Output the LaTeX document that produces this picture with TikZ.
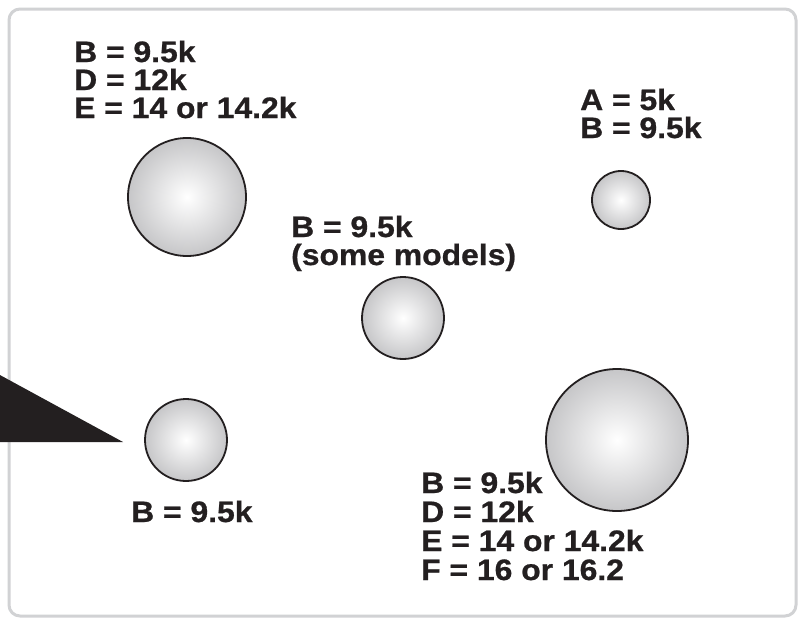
\documentclass[tikz,border=0pt]{standalone}
\usepackage{fontspec}
\setmainfont{Liberation Sans}[FakeStretch=1.08, BoldFeatures={FakeBold=0.8}]
\definecolor{ink}{HTML}{231F20}
\definecolor{frame}{HTML}{D1D2D4}
\definecolor{ballout}{HTML}{C6C6C8}
\tikzset{
  lbl/.style={anchor=base west, inner sep=0pt, text=ink, font=\fontsize{29.5}{28.5}\selectfont\bfseries},
  ball/.style={circle, draw=ink, line width=1.8pt, inner sep=0pt, inner color=white, outer color=ballout},
  framebox/.style={draw=frame, line width=3pt, rounded corners=11pt},
  wedge/.style={fill=ink}
}
\begin{document}
\begin{tikzpicture}[x=1pt,y=-1pt]
\useasboundingbox (0,0) rectangle (801,624);
\fill[white] (0,0) rectangle (801,624);
\draw[framebox] (9,9) rectangle (796,616);

% balls
\node[ball, minimum size=118pt] (c1) at (187,197) {};
\node[ball, minimum size=58pt] (c2) at (621,200) {};
\node[ball, minimum size=82pt] (c3) at (403,318) {};
\node[ball, minimum size=82pt] (c4) at (186,440) {};
\node[ball, minimum size=142pt] (c5) at (617,440) {};

% wedge
\fill[wedge] (-1,374.5) -- (123,442) -- (-1,442) -- cycle;

% labels top-left
\node[lbl] (t1a) at (74,62) {B = 9.5k};
\node[lbl] (t1b) at (74,90) {D = 12k};
\node[lbl] (t1c) at (74,118) {E = 14 or 14.2k};

% labels top-right
\node[lbl] (t2a) at (580,110) {A = 5k};
\node[lbl] (t2b) at (580,138) {B = 9.5k};

% labels middle
\node[lbl] (t3a) at (291,237) {B = 9.5k};
\node[lbl] (t3b) at (291,265) {(some models)};

% label bottom-left
\node[lbl] (t4a) at (131,522) {B = 9.5k};

% labels bottom-right
\node[lbl] (t5a) at (421,493) {B = 9.5k};
\node[lbl] (t5b) at (421,522) {D = 12k};
\node[lbl] (t5c) at (421,551) {E = 14 or 14.2k};
\node[lbl] (t5d) at (421,580) {F = 16 or 16.2};
\end{tikzpicture}
\end{document}
